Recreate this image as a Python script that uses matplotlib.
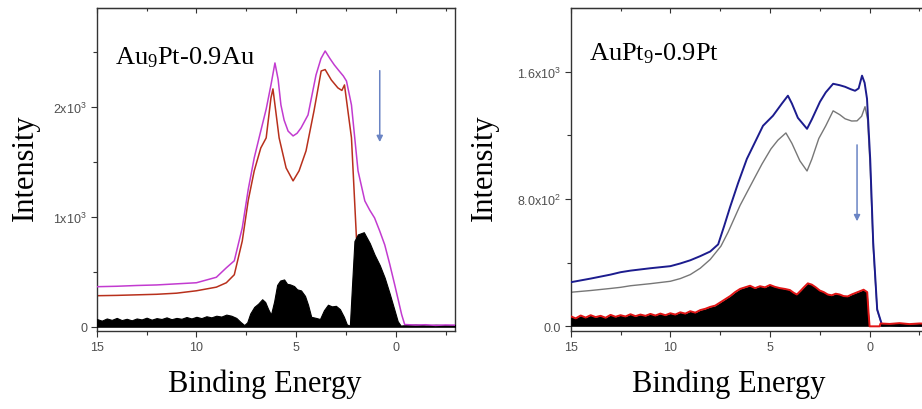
import matplotlib
matplotlib.use("Agg")
import matplotlib.pyplot as plt
from matplotlib.ticker import FixedLocator

# ---- left panel: Au9Pt - 0.9Au ----
au_mag_e = [15, 14, 13, 12, 11, 10, 9, 8.5, 8.1, 7.7, 7.4, 7.1, 6.8, 6.5, 6.26, 6.06, 5.9, 5.76, 5.6, 5.4,
            5.15, 4.95, 4.75, 4.4, 4.0, 3.75, 3.54, 3.3, 3.08, 2.85, 2.63, 2.47, 2.22, 1.89, 1.55, 1.3, 1.06, 0.8,
            0.55, 0.3, 0.05, -0.3, -0.45, -1, -1.5, -2, -2.5, -3]
au_mag_i = [364, 368, 375, 380, 390, 400, 450, 536, 600, 900, 1250, 1536, 1760, 1980, 2200, 2400, 2250, 2018, 1880, 1780,
            1736, 1760, 1809, 1927, 2290, 2440, 2509, 2440, 2382, 2330, 2282, 2236, 2018, 1418, 1145, 1060, 990, 870,
            745, 570, 382, 110, 20, 15, 18, 12, 16, 14]

au_red_e = [15, 14, 13, 12, 11, 10, 9, 8.5, 8.1, 7.7, 7.4, 7.1, 6.77, 6.5, 6.26, 6.16, 5.85, 5.5, 5.15, 4.85,
            4.5, 4.1, 3.74, 3.54, 3.23, 2.9, 2.7, 2.57, 2.22, 1.97]
au_red_i = [282, 285, 290, 295, 305, 327, 360, 400, 473, 780, 1150, 1418, 1627, 1718, 2082, 2164, 1718, 1445, 1327, 1418,
            1600, 1964, 2327, 2340, 2245, 2173, 2150, 2200, 1720, 810]

au_diff_e = [15, 14.75, 14.5, 14.25, 14, 13.75, 13.5, 13.25, 13, 12.75, 12.5, 12.25, 12, 11.75, 11.5, 11.25, 11,
             10.75, 10.5, 10.25, 10, 9.75, 9.5, 9.25, 9, 8.75, 8.5, 8.25, 8, 7.8, 7.6, 7.45, 7.3, 7.1, 6.9, 6.7,
             6.55, 6.4, 6.26, 6.1, 5.95, 5.8, 5.6, 5.45, 5.3, 5.1, 4.95, 4.75, 4.55, 4.4, 4.24, 4.0, 3.8, 3.6, 3.4,
             3.2, 3.0, 2.8, 2.6, 2.45, 2.3, 2.2, 2.07, 1.9, 1.6, 1.3, 1.06, 0.8, 0.55, 0.3, 0.05, -0.1, -0.25, -0.5,
             -1, -1.5, -2, -2.5, -3]
au_diff_i = [70, 55, 75, 62, 80, 60, 72, 58, 75, 66, 82, 64, 78, 70, 85, 68, 80,
             72, 88, 75, 90, 78, 95, 85, 100, 92, 110, 100, 80, 45, 15, 40, 120, 180, 210, 250,
             225, 160, 110, 230, 380, 420, 430, 390, 385, 370, 340, 330, 280, 200, 90, 80, 70, 150, 200,
             185, 190, 160, 90, 20, 10, 350, 780, 840, 860, 760, 655, 560, 445, 300, 145, 50, 10, 15,
             20, 12, 18, 14, 16]

# ---- right panel: AuPt9 - 0.9Pt ----
pt_blue_e = [15, 14, 13, 12.5, 12, 11, 10, 9.5, 9, 8.5, 8, 7.6, 7.3, 7.0, 6.6, 6.16, 5.7, 5.35, 4.85, 4.4,
             4.1, 3.9, 3.6, 3.14, 2.9, 2.49, 2.2, 1.83, 1.5, 1.23, 0.95, 0.73, 0.55, 0.38, 0.25, 0.13, -0.03,
             -0.18, -0.38, -0.63, -1, -1.5, -2, -2.5, -3]
pt_blue_i = [277, 300, 325, 340, 350, 365, 378, 395, 415, 441, 470, 515, 630, 750, 900, 1052, 1170, 1260, 1323, 1400,
             1449, 1400, 1310, 1241, 1300, 1411, 1470, 1524, 1515, 1505, 1490, 1480, 1495, 1575, 1530, 1430, 1052,
             529, 107, 5, 8, 3, 6, 4, 7]

pt_gray_e = [15, 14, 13, 12.5, 12, 11, 10, 9.5, 9, 8.5, 8, 7.46, 7.1, 6.5, 5.8, 5.4, 4.95, 4.6, 4.2, 3.9,
             3.5, 3.14, 2.9, 2.55, 2.2, 1.83, 1.5, 1.23, 0.9, 0.63, 0.4, 0.23, 0.1, -0.03, -0.18, -0.38, -0.63,
             -1, -1.5, -2, -2.5, -3]
pt_gray_i = [214, 225, 238, 245, 255, 268, 283, 300, 325, 365, 420, 504, 592, 760, 926, 1020, 1115, 1170, 1215, 1150,
             1040, 976, 1050, 1180, 1260, 1354, 1330, 1304, 1290, 1291, 1320, 1380, 1300, 1000, 500, 100, 5,
             8, 3, 6, 4, 7]

pt_diff_e = [15, 14.75, 14.5, 14.25, 14, 13.75, 13.5, 13.25, 13, 12.75, 12.5, 12.25, 12, 11.75, 11.5, 11.25, 11,
             10.75, 10.5, 10.25, 10, 9.75, 9.5, 9.25, 9, 8.75, 8.5, 8.25, 8, 7.75, 7.5, 7.25, 7, 6.75, 6.5, 6.25,
             6, 5.75, 5.5, 5.25, 5, 4.75, 4.5, 4.25, 4, 3.8, 3.65, 3.45, 3.3, 3.1, 2.9, 2.7, 2.5, 2.3, 2.1, 1.9,
             1.7, 1.5, 1.3, 1.1, 0.9, 0.7, 0.5, 0.3, 0.12, 0.05, 0.0, -0.5, -0.55, -1, -1.5, -2, -2.5, -3]
pt_diff_i = [63, 50, 68, 55, 70, 58, 66, 54, 72, 60, 70, 62, 76, 64, 74, 66, 78,
             68, 80, 70, 82, 74, 88, 80, 95, 86, 102, 110, 122, 130, 150, 170, 190, 215, 235, 245,
             255, 240, 252, 245, 260, 248, 240, 235, 228, 210, 200, 225, 245, 270, 262, 245, 225, 215, 200, 195,
             205, 200, 190, 188, 200, 210, 220, 230, 215, 80, 0, 0, 18, 15, 20, 14, 18, 16]

panels = [
    dict(title=r"Au$\mathregular{_9}$Pt-0.9Au", ylim=(-40, 2900), title_y=0.828,
         yticks=[0, 1000, 2000], yminor=[500, 1500, 2500],
         ylabels=["0", r"1x10$\mathregular{^3}$", r"2x10$\mathregular{^3}$"],
         arrow=(0.8, 2330, 1680), pos=[0.105, 0.19, 0.389, 0.788],
         ylab_x=-0.16, xlab_x=0.468),
    dict(title=r"AuPt$\mathregular{_9}$-0.9Pt", ylim=(-30, 2000), title_y=0.842,
         yticks=[0, 800, 1600], yminor=[400, 1200],
         ylabels=["0.0", r"8.0x10$\mathregular{^2}$", r"1.6x10$\mathregular{^3}$"],
         arrow=(0.63, 1140, 660), pos=[0.619, 0.19, 0.389, 0.788],
         ylab_x=-0.2, xlab_x=0.44),
]

fig = plt.figure(figsize=(9.22, 4.10), dpi=100)
axes = [fig.add_axes(p["pos"]) for p in panels]

# left
ax = axes[0]
ax.plot(au_red_e, au_red_i, color="#b8301c", lw=1.1, zorder=2)
ax.fill_between(au_diff_e, 0, au_diff_i, color="black", lw=0.8, zorder=3)
ax.plot(au_mag_e, au_mag_i, color="#c23bd0", lw=1.1, zorder=4)

# right
ax = axes[1]
ax.plot(pt_gray_e, pt_gray_i, color="#777777", lw=1.0, zorder=2)
ax.plot(pt_blue_e, pt_blue_i, color="#1c1c8e", lw=1.4, zorder=3)
ax.fill_between(pt_diff_e, 0, pt_diff_i, color="black", lw=0, zorder=4)
ax.plot(pt_diff_e, pt_diff_i, color="#e01414", lw=1.4, zorder=5)

for ax, p in zip(axes, panels):
    ax.set_xlim(15, -3)
    ax.set_ylim(*p["ylim"])
    ax.set_xticks([15, 10, 5, 0])
    ax.xaxis.set_minor_locator(FixedLocator([12.5, 7.5, 2.5, -2.5]))
    ax.set_yticks(p["yticks"])
    ax.set_yticklabels(p["ylabels"])
    ax.yaxis.set_minor_locator(FixedLocator(p["yminor"]))
    ax.tick_params(axis="both", which="both", labelsize=9, labelcolor="#505050",
                   color="#333333", width=0.8, direction="out")
    ax.tick_params(axis="both", which="major", length=4.5, pad=2.5)
    ax.tick_params(axis="both", which="minor", length=3)
    for lab in ax.get_xticklabels() + ax.get_yticklabels():
        lab.set_family(["Liberation Sans", "DejaVu Sans"])
    for sp in ax.spines.values():
        sp.set_color("#333333")
        sp.set_linewidth(1.0)
    # inward ticks on top edge
    sec = ax.secondary_xaxis("top")
    sec.set_xticks([15, 10, 5, 0])
    sec.xaxis.set_minor_locator(FixedLocator([12.5, 7.5, 2.5, -2.5]))
    sec.tick_params(which="both", direction="in", labeltop=False, color="#333333", width=0.8)
    sec.tick_params(which="major", length=3.5)
    sec.tick_params(which="minor", length=2.5)

    ax.text(0.05, p["title_y"], p["title"], transform=ax.transAxes,
            fontsize=19, family="Liberation Serif", va="baseline", ha="left")
    ax.set_ylabel("Intensity", fontsize=22, family="Liberation Serif")
    ax.set_xlabel("Binding Energy", fontsize=22, family="Liberation Serif")
    ax.yaxis.set_label_coords(p["ylab_x"], 0.51)
    ax.xaxis.set_label_coords(p["xlab_x"], -0.115)

    xa, y0, y1 = p["arrow"]
    ax.annotate("", xy=(xa, y1), xytext=(xa, y0),
                arrowprops=dict(arrowstyle="-|>", color="#6a84c4", lw=1.1,
                                mutation_scale=9, shrinkA=0, shrinkB=0), zorder=6)

fig.savefig("out.png", dpi=100)
